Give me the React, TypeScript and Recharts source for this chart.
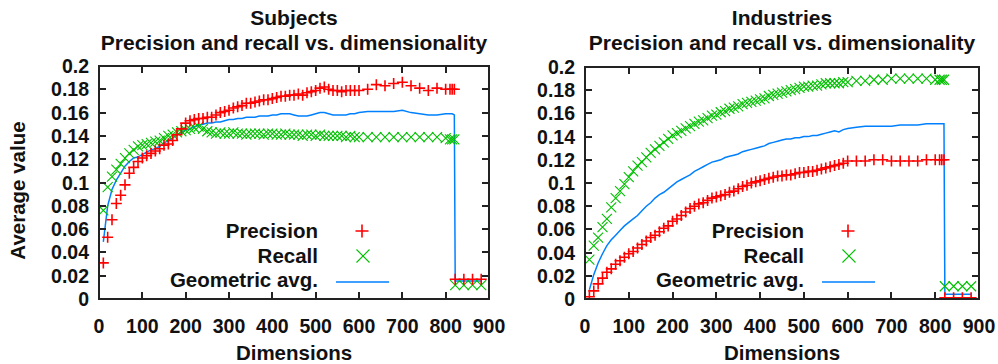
import React from 'react';
import { ComposedChart, XAxis, YAxis, Line, Scatter, Legend, Label, Customized } from 'recharts';

const FONT = '"Liberation Sans", Arial, Helvetica, sans-serif';
const RED = '#ff0000';
const GREEN = '#00c000';
const BLUE = '#0080ff';
const FRAME = '#222222';
const INK = '#111111';

const dims = [
  10, 20, 30, 40, 50, 60, 70, 80, 90, 100,
  110, 120, 130, 140, 150, 160, 170, 180, 190, 200,
  210, 220, 230, 240, 250, 260, 270, 280, 290, 300,
  310, 320, 330, 340, 350, 360, 370, 380, 390, 400,
  410, 420, 430, 440, 450, 460, 470, 480, 490, 500,
  510, 520, 530, 540, 550, 560, 570, 580, 590, 600,
  620, 640, 660, 680, 700, 720, 740, 760, 780, 800,
  810, 815, 820,
  822, 842, 862, 882,
];

const subjectsPrecision = [
  0.031, 0.053, 0.068, 0.082, 0.089, 0.098, 0.108, 0.113, 0.118, 0.121,
  0.123, 0.125, 0.127, 0.129, 0.132, 0.133, 0.136, 0.141, 0.146, 0.151,
  0.153, 0.154, 0.155, 0.155, 0.156, 0.156, 0.158, 0.160, 0.161, 0.162,
  0.164, 0.165, 0.166, 0.168, 0.168, 0.169, 0.170, 0.171, 0.171, 0.172,
  0.173, 0.174, 0.174, 0.175, 0.175, 0.176, 0.175, 0.177, 0.178, 0.179,
  0.181, 0.182, 0.180, 0.179, 0.179, 0.178, 0.179, 0.179, 0.179, 0.179,
  0.180, 0.184, 0.183, 0.185, 0.186, 0.183, 0.181, 0.179, 0.181, 0.180,
  0.180, 0.180, 0.180,
  0.017, 0.017, 0.017, 0.017,
];
const subjectsRecall = [
  0.076, 0.096, 0.105, 0.111, 0.116, 0.121, 0.125, 0.128, 0.131, 0.132,
  0.133, 0.134, 0.135, 0.136, 0.138, 0.140, 0.141, 0.143, 0.144, 0.145,
  0.146, 0.147, 0.148, 0.146, 0.144, 0.143, 0.142, 0.143, 0.142, 0.142,
  0.143, 0.142, 0.142, 0.141, 0.142, 0.142, 0.142, 0.141, 0.142, 0.142,
  0.141, 0.141, 0.142, 0.141, 0.141, 0.141, 0.140, 0.141, 0.141, 0.140,
  0.141, 0.140, 0.140, 0.140, 0.140, 0.140, 0.139, 0.140, 0.139, 0.139,
  0.139, 0.139, 0.139, 0.139, 0.139, 0.139, 0.139, 0.139, 0.139, 0.138,
  0.137, 0.137, 0.137,
  0.012, 0.012, 0.012, 0.012,
];
const subjectsGeo = [
  0.049, 0.080, 0.094, 0.102, 0.108, 0.114, 0.118, 0.121, 0.122, 0.124,
  0.126, 0.128, 0.129, 0.131, 0.134, 0.136, 0.138, 0.141, 0.143, 0.145,
  0.146, 0.148, 0.149, 0.150, 0.151, 0.151, 0.152, 0.152, 0.153, 0.154,
  0.154, 0.155, 0.155, 0.156, 0.156, 0.156, 0.157, 0.157, 0.157, 0.158,
  0.158, 0.159, 0.159, 0.159, 0.158, 0.157, 0.157, 0.157, 0.158, 0.159,
  0.160, 0.160, 0.159, 0.158, 0.158, 0.158, 0.158, 0.159, 0.159, 0.160,
  0.161, 0.161, 0.161, 0.161, 0.162, 0.160, 0.159, 0.158, 0.158, 0.159,
  0.159, 0.159, 0.158,
  0.0155, 0.0155, 0.0155, 0.0155,
];

const industriesPrecision = [
  0.002, 0.007, 0.013, 0.018, 0.023, 0.026, 0.030, 0.033, 0.036, 0.039,
  0.041, 0.044, 0.047, 0.050, 0.053, 0.055, 0.058, 0.061, 0.063, 0.067,
  0.069, 0.072, 0.075, 0.078, 0.080, 0.082, 0.083, 0.085, 0.087, 0.088,
  0.089, 0.090, 0.092, 0.093, 0.095, 0.097, 0.098, 0.100, 0.101, 0.102,
  0.103, 0.104, 0.105, 0.106, 0.106, 0.107, 0.107, 0.108, 0.109, 0.109,
  0.110, 0.110, 0.111, 0.112, 0.113, 0.114, 0.115, 0.116, 0.117, 0.119,
  0.119, 0.119, 0.120, 0.120, 0.119, 0.119, 0.119, 0.119, 0.120, 0.120,
  0.120, 0.120, 0.120,
  0.001, 0.001, 0.001, 0.001,
];
const industriesRecall = [
  0.034, 0.046, 0.053, 0.062, 0.069, 0.079, 0.087, 0.093, 0.099, 0.105,
  0.110, 0.115, 0.118, 0.122, 0.126, 0.129, 0.132, 0.135, 0.138, 0.141,
  0.143, 0.145, 0.147, 0.149, 0.151, 0.153, 0.154, 0.156, 0.158, 0.159,
  0.161, 0.162, 0.164, 0.165, 0.166, 0.168, 0.169, 0.170, 0.171, 0.172,
  0.173, 0.175, 0.176, 0.177, 0.178, 0.179, 0.180, 0.181, 0.182, 0.183,
  0.183, 0.184, 0.184, 0.185, 0.186, 0.186, 0.186, 0.186, 0.187, 0.187,
  0.188, 0.188, 0.189, 0.189, 0.190, 0.190, 0.190, 0.190, 0.190, 0.189,
  0.189, 0.189, 0.189,
  0.011, 0.011, 0.011, 0.011,
];
const industriesGeo = [
  0.008, 0.021, 0.031, 0.039, 0.046, 0.051, 0.055, 0.059, 0.063, 0.066,
  0.069, 0.072, 0.076, 0.080, 0.083, 0.087, 0.090, 0.092, 0.095, 0.098,
  0.101, 0.103, 0.105, 0.107, 0.110, 0.112, 0.114, 0.116, 0.118, 0.119,
  0.120, 0.122, 0.123, 0.124, 0.125, 0.127, 0.128, 0.129, 0.130, 0.131,
  0.132, 0.134, 0.135, 0.136, 0.137, 0.138, 0.138, 0.139, 0.139, 0.140,
  0.140, 0.141, 0.141, 0.142, 0.143, 0.144, 0.145, 0.144, 0.146, 0.147,
  0.148, 0.149, 0.149, 0.149, 0.149, 0.150, 0.150, 0.150, 0.151, 0.151,
  0.151, 0.151, 0.151,
  0.004, 0.004, 0.004, 0.004,
];

const xTicks = [0, 100, 200, 300, 400, 500, 600, 700, 800, 900];
const yTicks = [0, 0.02, 0.04, 0.06, 0.08, 0.1, 0.12, 0.14, 0.16, 0.18, 0.2];
const seriesNames = ['Precision', 'Recall', 'Geometric avg.'];
const subtitle = 'Precision and recall vs. dimensionality';
const xLabel = 'Dimensions';
const yLabel = 'Average value';

function buildRows(p: number[], r: number[], g: number[]) {
  return dims.map((d, i) => ({ d, p: p[i], r: r[i], g: g[i] }));
}

const PlusMarker = (props: any) => {
  const { cx, cy } = props;
  if (cx == null || cy == null) return null;
  const s = 5.5;
  return (
    <path d={`M${cx - s},${cy}H${cx + s}M${cx},${cy - s}V${cy + s}`} stroke={RED} strokeWidth={1.6} fill="none" />
  );
};

const CrossMarker = (props: any) => {
  const { cx, cy } = props;
  if (cx == null || cy == null) return null;
  const s = 5;
  return (
    <path
      d={`M${cx - s},${cy - s}L${cx + s},${cy + s}M${cx - s},${cy + s}L${cx + s},${cy - s}`}
      stroke={GREEN}
      strokeWidth={1.1}
      fill="none"
    />
  );
};

const textStyle = { fontFamily: FONT, fontWeight: 700, fill: INK } as const;
const TICK_LEN = 7;

const LegendBox = () => (
  <svg width={200} height={80} style={{ overflow: 'visible', display: 'block' }}>
    <text x={119} y={23} textAnchor="end" fontSize={20.5} {...textStyle}>{seriesNames[0]}</text>
    <path d="M156.5,16H169.5M163,9.5V22.5" stroke={RED} strokeWidth={1.6} fill="none" />
    <text x={119} y={47.5} textAnchor="end" fontSize={20.5} {...textStyle}>{seriesNames[1]}</text>
    <path d="M157.5,34.5L170.5,47.5M157.5,47.5L170.5,34.5" stroke={GREEN} strokeWidth={1.1} fill="none" />
    <text x={119} y={72} textAnchor="end" fontSize={20.5} {...textStyle}>{seriesNames[2]}</text>
    <line x1={137} x2={190} y1={67} y2={67} stroke={BLUE} strokeWidth={1.5} />
  </svg>
);

type PanelProps = {
  title: string;
  rows: any[];
  showYLabel: boolean;
  width: number;
  yAxisWidth: number;
  marginTop: number;
  marginRight: number;
};

function Panel({ title, rows, showYLabel, width, yAxisWidth, marginTop, marginRight }: PanelProps) {
  const height = 364;
  const xAxisHeight = 65;
  const plotLeft = yAxisWidth;
  const plotRight = width - marginRight;
  const plotTop = marginTop;
  const plotBottom = height - xAxisHeight;
  const plotW = plotRight - plotLeft;
  const plotH = plotBottom - plotTop;
  const cx = (plotLeft + plotRight) / 2;
  const xs = xTicks.map((t) => plotLeft + (t / 900) * plotW);
  const ys = yTicks.map((t) => plotBottom - (t / 0.2) * plotH);

  const XTick = (p: any) => (
    <text x={p.x} y={plotBottom + 34} textAnchor="middle" fontSize={19.5} {...textStyle}>
      {String(p.payload?.value)}
    </text>
  );
  const YTick = (p: any) => (
    <text x={plotLeft - 10} y={Number(p.y) + 7} textAnchor="end" fontSize={19.5} {...textStyle}>
      {String(p.payload?.value)}
    </text>
  );

  const Titles = () => (
    <g>
      <text x={cx} y={24.5} textAnchor="middle" fontSize={21} {...textStyle}>{title}</text>
      <text x={cx} y={50} textAnchor="middle" fontSize={21} {...textStyle}>{subtitle}</text>
    </g>
  );

  const tickDiv = (key: string, left: number, top: number, w: number, h: number) => (
    <div key={key} style={{ position: 'absolute', left, top, width: w, height: h, background: FRAME }} />
  );

  return (
    <div style={{ position: 'relative', width, height }}>
      <ComposedChart
        width={width}
        height={height}
        data={rows}
        margin={{ top: marginTop, right: marginRight, bottom: 0, left: 0 }}
        style={{ overflow: 'visible' }}
      >
        <XAxis
          xAxisId="b"
          dataKey="d"
          type="number"
          domain={[0, 900]}
          ticks={xTicks}
          interval={0}
          height={xAxisHeight}
          tickSize={0}
          tickMargin={0}
          tickLine={false}
          axisLine={false}
          tick={XTick}
          allowDataOverflow
        >
          <Label
            content={(p: any) => {
              const vb = p.viewBox || {};
              return (
                <text x={vb.x + vb.width / 2} y={vb.y + 60.5} textAnchor="middle" fontSize={20.5} {...textStyle}>
                  {xLabel}
                </text>
              );
            }}
          />
        </XAxis>
        <YAxis
          yAxisId="l"
          type="number"
          domain={[0, 0.2]}
          ticks={yTicks}
          interval={0}
          width={yAxisWidth}
          tickSize={0}
          tickMargin={0}
          tickLine={false}
          axisLine={false}
          tick={YTick}
          allowDataOverflow
        >
          {showYLabel ? (
            <Label
              content={(p: any) => {
                const vb = p.viewBox || {};
                const cy = vb.y + vb.height / 2 + 8;
                return (
                  <text transform="rotate(-90)" x={-cy} y={25} textAnchor="middle" fontSize={20.5} {...textStyle}>
                    {yLabel}
                  </text>
                );
              }}
            />
          ) : null}
        </YAxis>
        <Customized component={<Titles />} />
        <Line xAxisId="b" yAxisId="l" type="linear" dataKey="g" stroke={BLUE} strokeWidth={1.5} dot={false} isAnimationActive={false} />
        <Scatter xAxisId="b" yAxisId="l" dataKey="r" shape={CrossMarker} isAnimationActive={false} />
        <Scatter xAxisId="b" yAxisId="l" dataKey="p" shape={PlusMarker} isAnimationActive={false} />
        <Legend
          layout="vertical"
          align="center"
          verticalAlign="middle"
          content={() => <LegendBox />}
          wrapperStyle={{ left: plotLeft + 100, top: 215, width: 200, height: 80 }}
        />
      </ComposedChart>
      {/* gnuplot-style border with inward ticks on all four sides */}
      <div style={{ position: 'absolute', left: 0, top: 0, width, height, pointerEvents: 'none' }}>
        <div
          style={{
            position: 'absolute',
            left: Math.round(plotLeft) - 1,
            top: Math.round(plotTop) - 1,
            width: Math.round(plotW) + 2,
            height: Math.round(plotH) + 2,
            border: `2px solid ${FRAME}`,
            boxSizing: 'border-box',
          }}
        />
        {xs.map((x, i) => tickDiv(`xb${i}`, Math.round(x) - 1, Math.round(plotBottom) - TICK_LEN, 2, TICK_LEN))}
        {xs.map((x, i) => tickDiv(`xt${i}`, Math.round(x) - 1, Math.round(plotTop), 2, TICK_LEN))}
        {ys.map((y, i) => tickDiv(`yl${i}`, Math.round(plotLeft), Math.round(y) - 1, TICK_LEN, 2))}
        {ys.map((y, i) => tickDiv(`yr${i}`, Math.round(plotRight) - TICK_LEN, Math.round(y) - 1, TICK_LEN, 2))}
      </div>
    </div>
  );
}

export default function App() {
  const subjectsRows = buildRows(subjectsPrecision, subjectsRecall, subjectsGeo);
  const industriesRows = buildRows(industriesPrecision, industriesRecall, industriesGeo);
  return (
    <div style={{ position: 'absolute', left: 0, top: 0, width: 998, height: 364, background: '#fff', overflow: 'hidden' }}>
      <div style={{ position: 'absolute', left: 0, top: 0 }}>
        <Panel title="Subjects" rows={subjectsRows} showYLabel width={520} yAxisWidth={99} marginTop={66} marginRight={31} />
      </div>
      <div style={{ position: 'absolute', left: 499, top: 0 }}>
        <Panel title="Industries" rows={industriesRows} showYLabel={false} width={499} yAxisWidth={86} marginTop={67} marginRight={19} />
      </div>
    </div>
  );
}
